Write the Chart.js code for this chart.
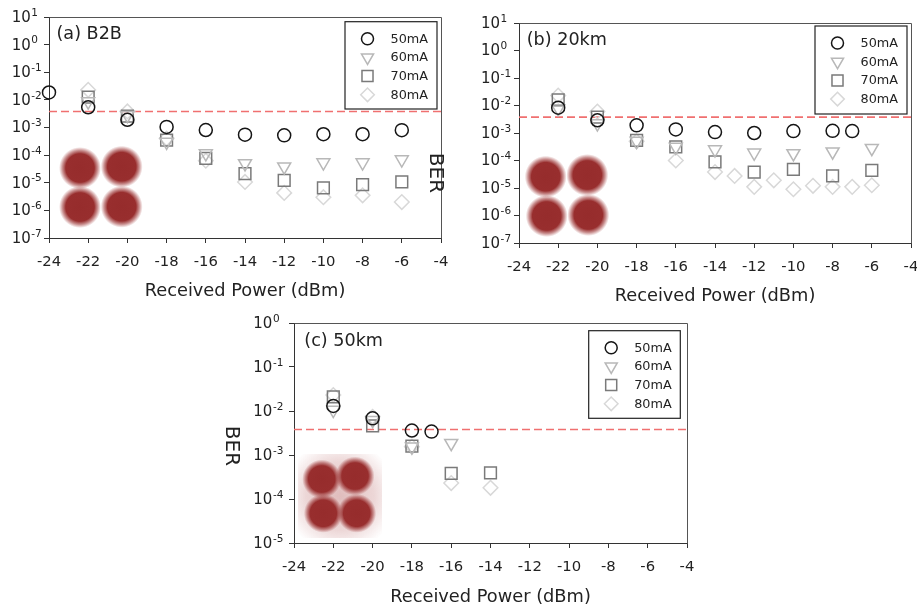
<!DOCTYPE html>
<html>
<head>
<meta charset="utf-8">
<script src="https://cdn.jsdelivr.net/npm/chart.js@4.4.1/dist/chart.umd.min.js"></script>
<style>
  body { margin: 0; background: #fff; width: 917px; height: 609px; position: relative; overflow: hidden; }
  canvas { position: absolute; }
</style>
</head>
<body>
<canvas id="panelA" width="448" height="305" style="left:0px;top:0px"></canvas>
<canvas id="panelB" width="462" height="309" style="left:455px;top:0px"></canvas>
<canvas id="panelC" width="505" height="304" style="left:215px;top:305px"></canvas>
<script>
// ejes
const ticksX = [-24, -22, -20, -18, -16, -14, -12, -10, -8, -6, -4]
const decadasAB = [1e1, 1e0, 1e-1, 1e-2, 1e-3, 1e-4, 1e-5, 1e-6, 1e-7]
const decadasC = [1e0, 1e-1, 1e-2, 1e-3, 1e-4, 1e-5]
const umbralFEC = 3.8e-3
const corrientes = ['50mA', '60mA', '70mA', '80mA']

// (a) B2B
const potA50 = [-24, -22, -20, -18, -16, -14, -12, -10, -8, -6]
const berA50 = [1.85e-2, 5.4e-3, 1.9e-3, 1.05e-3, 8.1e-4, 5.5e-4, 5.2e-4, 5.7e-4, 5.7e-4, 8e-4]
const potA = [-22, -20, -18, -16, -14, -12, -10, -8, -6]
const berA60 = [8.7e-3, 2.8e-3, 3e-4, 1.15e-4, 5e-5, 3.8e-5, 5.4e-5, 5.4e-5, 6.9e-5]
const berA70 = [1.25e-2, 2.6e-3, 3.5e-4, 7.6e-5, 2.15e-5, 1.23e-5, 6.5e-6, 8.5e-6, 1.07e-5]
const berA80 = [2.3e-2, 3.8e-3, 4e-4, 6.3e-5, 1.07e-5, 4.3e-6, 3e-6, 3.5e-6, 2e-6]

// (b) 20km
const potB50 = [-22, -20, -18, -16, -14, -12, -10, -8, -7]
const berB50 = [8.3e-3, 2.9e-3, 1.9e-3, 1.35e-3, 1.08e-3, 1e-3, 1.17e-3, 1.2e-3, 1.17e-3]
const potB = [-22, -20, -18, -16, -14, -12, -10, -8, -6]
const berB60 = [7.8e-3, 2.2e-3, 5.1e-4, 3.1e-4, 2.5e-4, 1.9e-4, 1.8e-4, 2.1e-4, 2.8e-4]
const berB70 = [1.6e-2, 3.8e-3, 5.4e-4, 3.1e-4, 8.9e-5, 3.8e-5, 4.8e-5, 2.75e-5, 4.4e-5]
const potB80 = [-22, -20, -18, -16, -14, -13, -12, -11, -10, -9, -8, -7, -6]
const berB80 = [2.3e-2, 6e-3, 5e-4, 1e-4, 3.8e-5, 2.75e-5, 1.1e-5, 1.9e-5, 9e-6, 1.2e-5, 1.1e-5, 1.1e-5, 1.26e-5]

// (c) 50km
const potC50 = [-22, -20, -18, -17]
const berC50 = [1.3e-2, 6.8e-3, 3.6e-3, 3.4e-3]
const potC60 = [-22, -20, -18, -16]
const berC60 = [1.05e-2, 6.2e-3, 1.55e-3, 1.85e-3]
const potC = [-22, -20, -18, -16, -14]
const berC70 = [2.1e-2, 4.6e-3, 1.6e-3, 3.8e-4, 3.9e-4]
const berC80 = [2.3e-2, 7.4e-3, 1.55e-3, 2.3e-4, 1.8e-4]

Chart.defaults.font.family = '"DejaVu Sans", sans-serif'
Chart.defaults.color = '#222'

const estilos = [
    {forma: 'circle', color: '#151515', radio: 6.5, giro: 0},
    {forma: 'triangle', color: '#b8b8b8', radio: 7.5, giro: 180},
    {forma: 'rect', color: '#7a7a7a', radio: 8.3, giro: 0},
    {forma: 'rectRot', color: '#d8d8d8', radio: 7.3, giro: 0}
]
const fuente = (t) => t + 'px "DejaVu Sans", sans-serif'

// nubes rojas de la constelacion (imagen insertada)
const constelacion = {
    id: 'constelacion',
    beforeDatasetsDraw(chart, args, o) {
        const ctx = chart.ctx
        ctx.save()
        if (o.halo) {
            const [hx, hy, hr] = o.halo
            const h = ctx.createRadialGradient(hx, hy, 0, hx, hy, hr * 1.35)
            h.addColorStop(0, 'rgba(165,65,65,0.35)')
            h.addColorStop(0.6, 'rgba(170,70,70,0.22)')
            h.addColorStop(1, 'rgba(175,80,80,0)')
            ctx.fillStyle = h
            ctx.fillRect(hx - hr, hy - hr, hr * 2, hr * 2)
        }
        o.centros.forEach(([cx, cy]) => {
            const g = ctx.createRadialGradient(cx, cy, 0, cx, cy, o.radio)
            g.addColorStop(0, 'rgba(150,44,44,1)')
            g.addColorStop(0.68, 'rgba(152,46,46,1)')
            g.addColorStop(0.84, 'rgba(158,55,55,0.55)')
            g.addColorStop(1, 'rgba(170,70,70,0)')
            ctx.fillStyle = g
            ctx.beginPath()
            ctx.arc(cx, cy, o.radio, 0, Math.PI * 2)
            ctx.fill()
        })
        ctx.restore()
    }
}

// marco, etiquetas del eje y, titulo, BER y leyenda
const adornos = {
    id: 'adornos',
    afterDraw(chart, args, o) {
        const ctx = chart.ctx
        const {left, right, top, bottom} = chart.chartArea
        const ys = chart.scales.y
        ctx.save()
        ctx.strokeStyle = '#555'
        ctx.lineWidth = 1
        ctx.beginPath()
        ctx.moveTo(Math.round(left) + 0.5, Math.round(top) + 0.5)
        ctx.lineTo(Math.round(right) + 0.5, Math.round(top) + 0.5)
        ctx.lineTo(Math.round(right) + 0.5, Math.round(bottom) + 0.5)
        ctx.stroke()

        ctx.fillStyle = '#222'
        ctx.textAlign = 'left'
        ctx.textBaseline = 'middle'
        ys.ticks.forEach(t => {
            const py = ys.getPixelForValue(t.value)
            const ex = Math.round(Math.log10(t.value))
            ctx.font = fuente(15)
            ctx.fillText('10', o.xEtiquetas, py + 1)
            const w = ctx.measureText('10').width
            ctx.font = fuente(10.5)
            ctx.fillText(String(ex), o.xEtiquetas + w + 0.5, py - 4)
        })

        ctx.font = fuente(17.6)
        ctx.fillText(o.titulo.texto, o.titulo.x, o.titulo.y)

        if (o.ber) {
            ctx.save()
            ctx.translate(o.ber.x, o.ber.y)
            ctx.rotate(Math.PI / 2)
            ctx.textAlign = 'center'
            ctx.font = fuente(20)
            ctx.fillText('BER', 0, 0)
            ctx.restore()
        }

        const c = o.caja
        ctx.fillStyle = '#fff'
        ctx.fillRect(c.x, c.y, c.w, c.h)
        ctx.strokeStyle = '#222'
        ctx.lineWidth = 1.2
        ctx.strokeRect(c.x, c.y, c.w, c.h)
        corrientes.forEach((txt, i) => {
            const e = estilos[i]
            const py = c.y + 17 + i * 18.7
            ctx.strokeStyle = e.color
            ctx.fillStyle = 'rgba(0,0,0,0)'
            ctx.lineWidth = 1.5
            Chart.helpers.drawPoint(ctx, {pointStyle: e.forma, radius: e.radio - 0.5, rotation: e.giro, borderWidth: 1.5}, c.x + 22.5, py)
            ctx.fillStyle = '#222'
            ctx.font = fuente(12.8)
            ctx.fillText(txt, c.x + 45.5, py + 0.5)
        })
        ctx.restore()
    }
}

const crearPanel = (id, cfg) => {
    const datasets = cfg.series.map((s, i) => ({
        label: corrientes[i],
        data: s[0].map((x, k) => ({x: x, y: s[1][k]})),
        pointStyle: estilos[i].forma,
        pointRadius: estilos[i].radio,
        pointRotation: estilos[i].giro,
        borderColor: estilos[i].color,
        pointBorderColor: estilos[i].color,
        backgroundColor: 'rgba(0,0,0,0)',
        pointBackgroundColor: 'rgba(0,0,0,0)',
        pointBorderWidth: 1.5,
        clip: false
    }))
    datasets.push({
        type: 'line',
        label: 'FEC',
        data: [{x: -24, y: umbralFEC}, {x: -4, y: umbralFEC}],
        borderColor: '#f07070',
        borderWidth: 1.7,
        borderDash: [8, 4],
        pointRadius: 0,
        clip: false
    })
    const rejilla = {drawOnChartArea: false, drawTicks: true, tickLength: 5, color: '#333'}
    return new Chart(document.getElementById(id), {
        type: 'scatter',
        data: {datasets},
        options: {
            responsive: false,
            animation: false,
            events: [],
            layout: {autoPadding: false, padding: cfg.relleno},
            plugins: {
                legend: {display: false},
                tooltip: {enabled: false},
                constelacion: cfg.nubes,
                adornos: cfg.adornos
            },
            scales: {
                x: {
                    type: 'linear', min: -24, max: -4,
                    afterBuildTicks: s => { s.ticks = ticksX.map(v => ({value: v})) },
                    afterFit: s => { s.height = cfg.altoX; s.paddingLeft = 0; s.paddingRight = 0 },
                    ticks: {autoSkip: false, maxRotation: 0, font: {size: 14.8}, color: '#222', padding: 10},
                    grid: rejilla,
                    border: {color: '#333'},
                    title: {display: true, text: 'Received Power (dBm)', font: {size: 17.8}, color: '#222', padding: {top: 0, bottom: cfg.pieTitulo}}
                },
                y: {
                    type: 'logarithmic', min: cfg.decadas[cfg.decadas.length - 1], max: cfg.decadas[0],
                    afterBuildTicks: s => { s.ticks = cfg.decadas.map(v => ({value: v})) },
                    afterFit: s => { s.width = cfg.anchoY; s.paddingTop = 0; s.paddingBottom = 0 },
                    ticks: {display: false},
                    grid: rejilla,
                    border: {color: '#333'}
                }
            }
        },
        plugins: [constelacion, adornos]
    })
}

crearPanel('panelA', {
    series: [[potA50, berA50], [potA, berA60], [potA, berA70], [potA, berA80]],
    decadas: decadasAB,
    relleno: {left: 0, top: 17, right: 7, bottom: 0},
    anchoY: 49, altoX: 67, pieTitulo: 2.6,
    nubes: {radio: 21, centros: [[80, 168], [121.7, 166.7], [80, 207], [121.7, 206.7]]},
    adornos: {
        xEtiquetas: 11.7,
        titulo: {texto: '(a) B2B', x: 56.5, y: 34},
        ber: {x: 435, y: 173},
        caja: {x: 345, y: 21.7, w: 92, h: 87.3}
    }
})

crearPanel('panelB', {
    series: [[potB50, berB50], [potB, berB60], [potB, berB70], [potB80, berB80]],
    decadas: decadasAB,
    relleno: {left: 0, top: 23, right: 6, bottom: 0},
    anchoY: 64, altoX: 66, pieTitulo: 1.6,
    nubes: {radio: 21, centros: [[90.7, 176.7], [132.3, 175], [91.7, 216], [133.3, 215]]},
    adornos: {
        xEtiquetas: 26,
        titulo: {texto: '(b) 20km', x: 71.7, y: 40},
        caja: {x: 360, y: 26, w: 92, h: 88}
    }
})

crearPanel('panelC', {
    series: [[potC50, berC50], [potC60, berC60], [potC, berC70], [potC, berC80]],
    decadas: decadasC,
    relleno: {left: 0, top: 18, right: 33, bottom: 0},
    anchoY: 79, altoX: 66, pieTitulo: 1,
    nubes: {radio: 19.5, halo: [125, 191, 42], centros: [[106.7, 174], [140, 171], [108.3, 208.3], [141.7, 208.3]]},
    adornos: {
        xEtiquetas: 38.3,
        titulo: {texto: '(c) 50km', x: 89.3, y: 36.7},
        ber: {x: 16, y: 141},
        caja: {x: 373.7, y: 25.7, w: 91.6, h: 87.6}
    }
})
</script>
</body>
</html>
